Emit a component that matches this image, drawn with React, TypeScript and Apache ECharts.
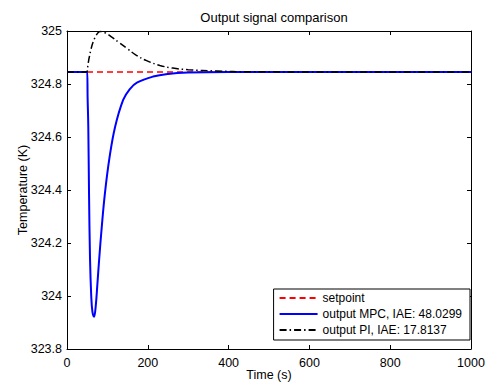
import React, { useEffect, useRef } from "react";
import * as echarts from "echarts";

const setpointT = [0, 1000];
const setpointV = [324.845, 324.845];

const mpcT = [0, 50, 51, 52.7, 54.5, 57, 60, 63, 67, 71, 75, 79.5, 86, 94, 105, 119, 139, 155, 173, 213, 250, 300, 400, 1000];
const mpcV = [324.845, 324.845, 324.75, 324.64, 324.39, 324.14, 324.0, 323.94, 323.922, 323.96, 324.04, 324.136, 324.26, 324.389, 324.52, 324.638, 324.74, 324.78, 324.805, 324.828, 324.838, 324.843, 324.845, 324.845];

const piT = [0, 48, 52, 55, 60, 65, 70, 76, 82, 95, 110, 130, 148, 170, 197, 230, 262, 300, 371, 450, 1000];
const piV = [324.845, 324.845, 324.875, 324.9, 324.935, 324.96, 324.977, 324.992, 324.998, 324.993, 324.978, 324.955, 324.935, 324.91, 324.888, 324.87, 324.86, 324.854, 324.849, 324.846, 324.845];

const xTicks = { min: 0, max: 1000, interval: 200 };
const yTicks = { min: 323.8, max: 325, interval: 0.2 };

const zip = (a: number[], b: number[]) => a.map((t, i) => [t, b[i]]);

const FONT = "Liberation Sans, Arial, sans-serif";
const FS = 12.5;

export default function App() {
  const ref = useRef<HTMLDivElement>(null);
  useEffect(() => {
    const chart = echarts.init(ref.current!, undefined, { renderer: "svg" });
    const axisCommon = {
      axisLine: { show: true, onZero: false, lineStyle: { color: "#000", width: 1 } },
      axisTick: { show: true, inside: true, length: 4, lineStyle: { color: "#000" } },
      splitLine: { show: false },
    };
    chart.setOption({
      animation: false,
      backgroundColor: "#fff",
      title: {
        text: "Output signal comparison",
        left: 269,
        textAlign: "center",
        top: 6,
        textStyle: { fontFamily: FONT, fontSize: 13, fontWeight: "normal", color: "#000" },
      },
      grid: { left: 67, right: 21, top: 31, bottom: 34, containLabel: false, outerBoundsMode: "none" },
      legend: {
        orient: "vertical",
        right: 22,
        bottom: 43,
        backgroundColor: "#fff",
        borderColor: "#000",
        borderWidth: 1,
        borderRadius: 0,
        padding: [3, 8, 4, 5],
        itemGap: 4,
        itemWidth: 38,
        itemHeight: 14,
        itemStyle: { opacity: 0 },
        textStyle: { fontFamily: FONT, fontSize: 12, color: "#000" },
        data: ["setpoint", "output MPC, IAE: 48.0299", "output PI, IAE: 17.8137"],
      },
      xAxis: [
        {
          type: "value",
          ...xTicks,
          ...axisCommon,
          name: "Time (s)",
          nameLocation: "middle",
          nameGap: 19,
          nameMoveOverlap: false,
          nameTextStyle: { fontFamily: FONT, fontSize: FS, color: "#000" },
          axisLabel: {
            fontFamily: FONT,
            fontSize: FS,
            color: "#000",
            margin: 7,
            formatter: (v: number) => String(v),
          },
        },
        {
          type: "value",
          position: "top",
          ...xTicks,
          ...axisCommon,
          axisLabel: { show: false },
        },
      ],
      yAxis: [
        {
          type: "value",
          ...yTicks,
          ...axisCommon,
          name: "Temperature (K)",
          nameLocation: "middle",
          nameGap: 38,
          nameMoveOverlap: false,
          nameTextStyle: { fontFamily: FONT, fontSize: FS, color: "#000" },
          axisLabel: {
            fontFamily: FONT,
            fontSize: FS,
            color: "#000",
            margin: 5,
            formatter: (v: number) => String(Math.round(v * 10) / 10),
          },
        },
        {
          type: "value",
          position: "right",
          ...yTicks,
          ...axisCommon,
          axisLabel: { show: false },
        },
      ],
      series: [
        {
          name: "setpoint",
          type: "line",
          data: zip(setpointT, setpointV),
          showSymbol: false,
          symbol: "none",
          lineStyle: { color: "#ff0000", width: 1.5, type: [6, 4] },
          itemStyle: { color: "#ff0000" },
        },
        {
          name: "output MPC, IAE: 48.0299",
          type: "line",
          data: zip(mpcT, mpcV),
          smooth: 0.4,
          showSymbol: false,
          symbol: "none",
          lineStyle: { color: "#0000ff", width: 2 },
          itemStyle: { color: "#0000ff" },
        },
        {
          name: "output PI, IAE: 17.8137",
          type: "line",
          data: zip(piT, piV),
          smooth: 0.4,
          showSymbol: false,
          symbol: "none",
          lineStyle: { color: "#000", width: 1.5, type: [7, 3, 1.5, 3] },
          itemStyle: { color: "#000" },
        },
      ],
    });
    return () => chart.dispose();
  }, []);
  return <div ref={ref} style={{ width: 492, height: 383, position: "absolute", left: 0, top: 0 }} />;
}
